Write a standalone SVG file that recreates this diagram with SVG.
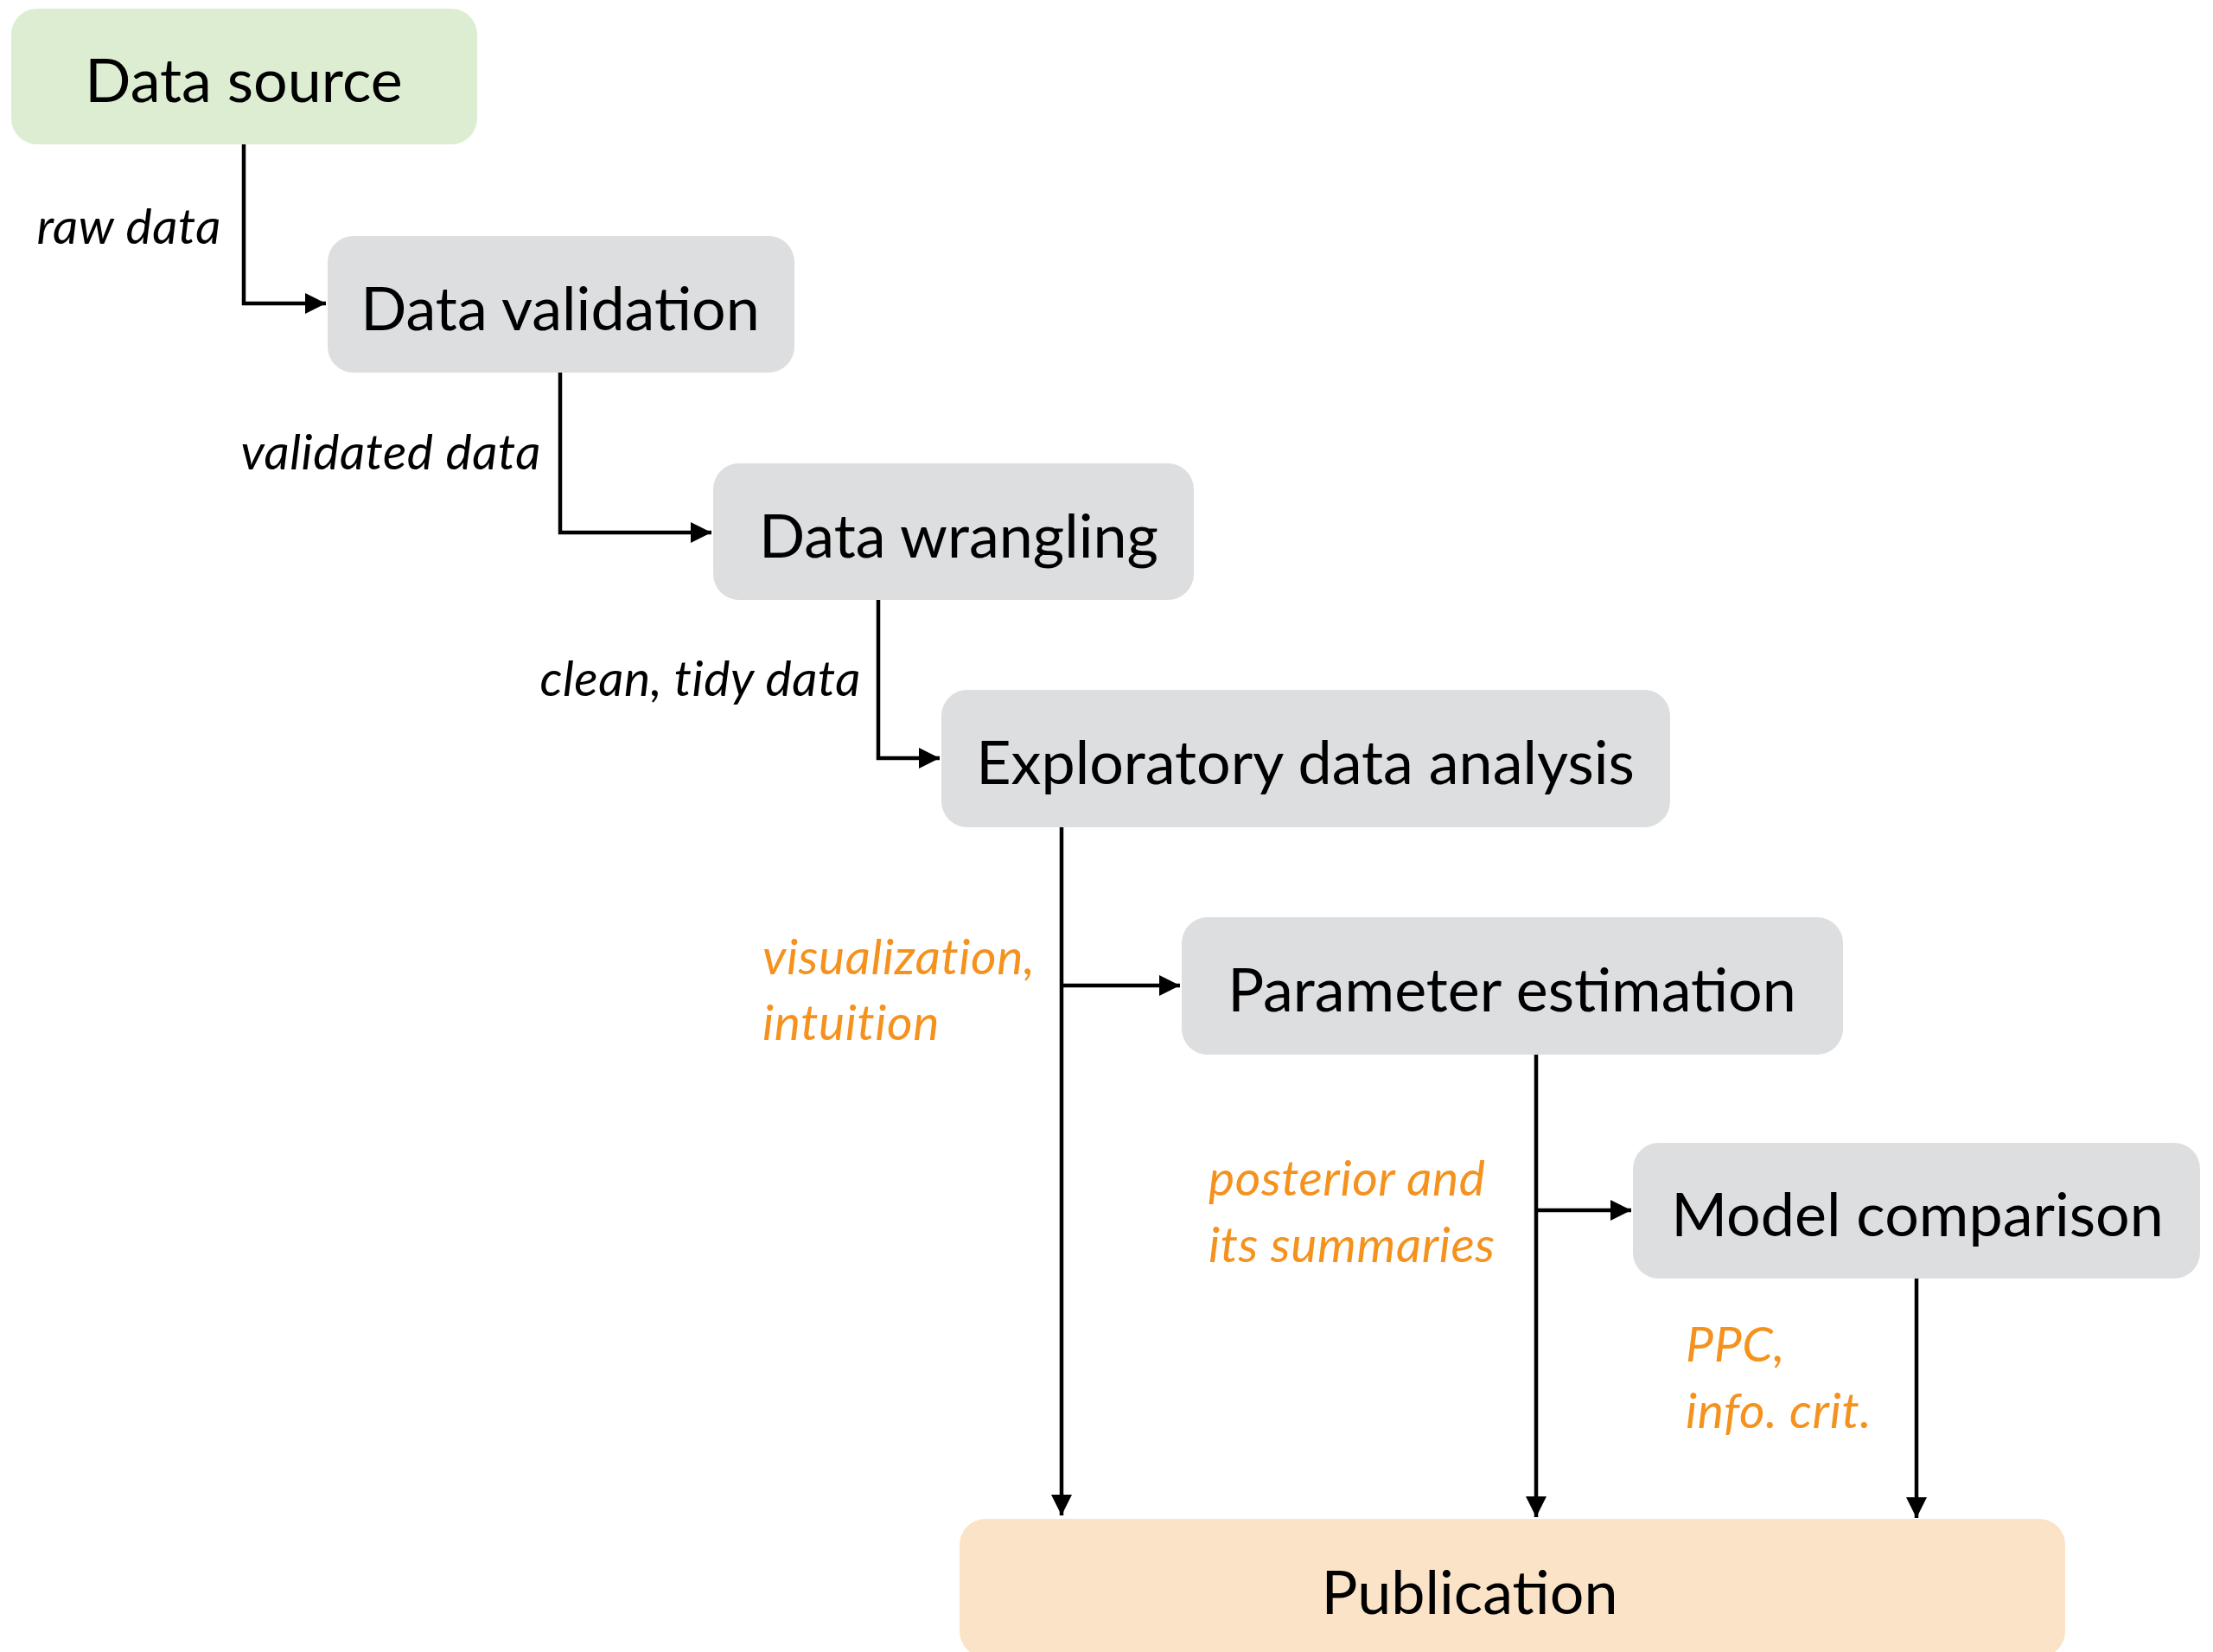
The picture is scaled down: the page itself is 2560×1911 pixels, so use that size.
<svg xmlns="http://www.w3.org/2000/svg" width="2560" height="1911" viewBox="0 0 2560 1911">
  <style>
    .box { stroke: none; }
    .step { fill: #dddee0; }
    .source { fill: #dcedd1; }
    .pub { fill: #fbe3c7; }
    .title { font-family: Lato, "Open Sans", sans-serif; font-size: 70px; fill: #000; text-anchor: middle; }
    .lbl { font-family: Lato, "Open Sans", sans-serif; font-size: 57px; font-style: italic; letter-spacing: 0.6px; }
    .dark { fill: #000; }
    .warm { fill: #f5921e; }
    .edge { fill: none; stroke: #000; stroke-width: 4.5; }
  </style>
  <defs>
    <marker id="arrow" markerUnits="userSpaceOnUse" markerWidth="25" markerHeight="24" refX="24" refY="12" orient="auto">
      <path d="M0,0 L24,12 L0,24 Z" fill="#000"/>
    </marker>
  </defs>

  <rect width="2560" height="1911" fill="#fff"/>

  <!-- connectors -->
  <g id="connectors">
    <path class="edge" d="M282,167 V351 H377" marker-end="url(#arrow)"/>
    <path class="edge" d="M648,431 V616 H823" marker-end="url(#arrow)"/>
    <path class="edge" d="M1016,694 V877 H1087" marker-end="url(#arrow)"/>
    <path class="edge" d="M1228,957 V1753" marker-end="url(#arrow)"/>
    <path class="edge" d="M1228,1140 H1365" marker-end="url(#arrow)"/>
    <path class="edge" d="M1777,1220 V1755" marker-end="url(#arrow)"/>
    <path class="edge" d="M1777,1400 H1887" marker-end="url(#arrow)"/>
    <path class="edge" d="M2217,1479 V1756" marker-end="url(#arrow)"/>
  </g>

  <!-- edge labels -->
  <g id="labels">
    <text class="lbl dark" x="256" y="282" text-anchor="end">raw data</text>
    <text class="lbl dark" x="626" y="543" text-anchor="end">validated data</text>
    <text class="lbl dark" x="996" y="805" text-anchor="end">clean, tidy data</text>
    <text class="lbl warm" x="882" y="1127">visualization,</text>
    <text class="lbl warm" x="882" y="1203">intuition</text>
    <text class="lbl warm" x="1398" y="1383">posterior and</text>
    <text class="lbl warm" x="1398" y="1460">its summaries</text>
    <text class="lbl warm" x="1950" y="1575">PPC,</text>
    <text class="lbl warm" x="1950" y="1652">info. crit.</text>
  </g>

  <!-- nodes -->
  <g id="data-source">
    <rect class="box source" x="13" y="10" width="539" height="157" rx="30"/>
    <text class="title" x="282" y="118">Data source</text>
  </g>
  <g id="data-validation">
    <rect class="box step" x="379" y="273" width="540" height="158" rx="30"/>
    <text class="title" x="648" y="382">Data validation</text>
  </g>
  <g id="data-wrangling">
    <rect class="box step" x="825" y="536" width="556" height="158" rx="30"/>
    <text class="title" x="1109" y="645">Data wrangling</text>
  </g>
  <g id="exploratory-analysis">
    <rect class="box step" x="1089" y="798" width="843" height="159" rx="30"/>
    <text class="title" x="1510" y="907">Exploratory data analysis</text>
  </g>
  <g id="parameter-estimation">
    <rect class="box step" x="1367" y="1061" width="765" height="159" rx="30"/>
    <text class="title" x="1749" y="1170">Parameter estimation</text>
  </g>
  <g id="model-comparison">
    <rect class="box step" x="1889" y="1322" width="656" height="157" rx="30"/>
    <text class="title" x="2218" y="1430">Model comparison</text>
  </g>
  <g id="publication">
    <rect class="box pub" x="1110" y="1757" width="1279" height="160" rx="30"/>
    <text class="title" x="1700" y="1867">Publication</text>
  </g>
</svg>
